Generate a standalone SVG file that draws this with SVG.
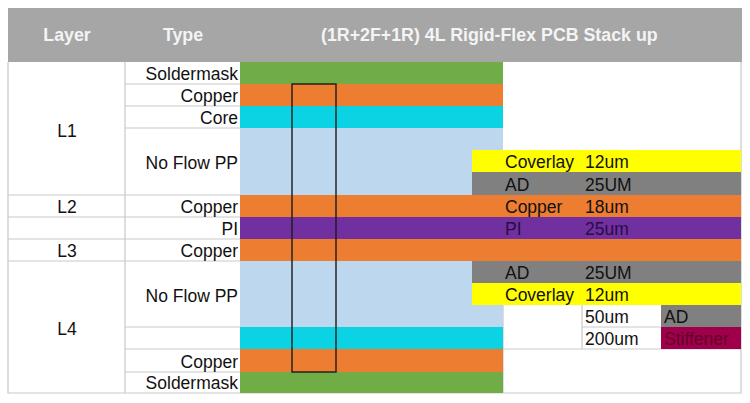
<svg xmlns="http://www.w3.org/2000/svg" width="750" height="403" viewBox="0 0 750 403">
<style>
text{font-family:"Liberation Sans",Arial,sans-serif;font-size:17.5px;fill:#111}
.h{font-weight:bold;fill:#F4F4F4;font-size:17.8px}
.r{text-anchor:end}
.c{text-anchor:middle}
.grid{stroke:#C9C9C9;stroke-width:1.2;fill:none}
.sm{fill:#70AD47}.cu{fill:#ED7D31}.core{fill:#0BD3E4}.pp{fill:#BDD7EE}.pi{fill:#7030A0}.cov{fill:#FFFF00}.ad{fill:#808080}.stf{fill:#A0004B}
.pit{fill:#2A0C45}.stt{fill:#62002A}
</style>
<rect width="750" height="403" fill="#fff"/>
<g id="header">
<rect x="8" y="8" width="734" height="54" fill="#A6A6A6"/>
<text class="h c" x="67" y="41">Layer</text>
<text class="h c" x="183" y="41">Type</text>
<text class="h" x="321" y="41">(1R+2F+1R) 4L Rigid-Flex PCB Stack up</text>
</g>
<g id="grid" class="grid">
<path d="M8 62V393H741V62"/>
<path d="M125 62V393"/>
<path d="M125 84H240M125 106H240M125 128H240"/>
<path d="M8 195H240M8 217H240M8 239H240M8 261H240"/>
<path d="M125 327H240M125 349H240M125 372H240"/>
<path d="M503 305V349H741M582 305V349M582 327H661M503 349V393"/>
</g>
<g id="layers">
<g id="L1"><text class="c" x="67" y="137">L1</text></g>
<g id="L2"><text class="c" x="67" y="213">L2</text></g>
<g id="L3"><text class="c" x="67" y="257">L3</text></g>
<g id="L4"><text class="c" x="67" y="335">L4</text></g>
</g>
<g id="row-soldermask-top"><rect class="sm" x="240" y="62" width="263" height="22"/><text class="r" x="238" y="80">Soldermask</text></g>
<g id="row-copper-top"><rect class="cu" x="240" y="84" width="263" height="22"/><text class="r" x="238" y="102">Copper</text></g>
<g id="row-core-top"><rect class="core" x="240" y="106" width="263" height="22"/><text class="r" x="238" y="124">Core</text></g>
<g id="row-pp-top"><rect class="pp" x="240" y="128" width="263" height="67"/><text class="r" x="238" y="169">No Flow PP</text></g>
<g id="coverlay-top"><rect class="cov" x="472" y="150" width="269" height="22"/><text x="505" y="168">Coverlay</text><text x="585" y="168">12um</text></g>
<g id="ad-top"><rect class="ad" x="472" y="172" width="269" height="23"/><text x="505" y="191">AD</text><text x="585" y="191">25UM</text></g>
<g id="row-copper-l2"><rect class="cu" x="240" y="195" width="501" height="22"/><text class="r" x="238" y="213">Copper</text><text x="505" y="213">Copper</text><text x="585" y="213">18um</text></g>
<g id="row-pi"><rect class="pi" x="240" y="217" width="501" height="22"/><text class="r" x="238" y="235">PI</text><text class="pit" x="505" y="235">PI</text><text class="pit" x="585" y="235">25um</text></g>
<g id="row-copper-l3"><rect class="cu" x="240" y="239" width="501" height="22"/><text class="r" x="238" y="257">Copper</text></g>
<g id="row-pp-bottom"><rect class="pp" x="240" y="261" width="263" height="66"/><text class="r" x="238" y="302">No Flow PP</text></g>
<g id="ad-bottom"><rect class="ad" x="472" y="261" width="269" height="22"/><text x="505" y="279">AD</text><text x="585" y="279">25UM</text></g>
<g id="coverlay-bottom"><rect class="cov" x="472" y="283" width="269" height="22"/><text x="505" y="301">Coverlay</text><text x="585" y="301">12um</text></g>
<g id="row-core-bottom"><rect class="core" x="240" y="327" width="263" height="22"/></g>
<g id="row-copper-bottom"><rect class="cu" x="240" y="349" width="263" height="23"/><text class="r" x="238" y="368">Copper</text></g>
<g id="row-soldermask-bottom"><rect class="sm" x="240" y="372" width="263" height="21"/><text class="r" x="238" y="389">Soldermask</text></g>
<g id="stiffener-ad"><rect class="ad" x="661" y="305" width="80" height="22"/><text x="585" y="323">50um</text><text x="664" y="323">AD</text></g>
<g id="stiffener"><rect class="stf" x="661" y="327" width="80" height="22"/><text x="585" y="345">200um</text><text class="stt" x="664" y="345">Stiffener</text></g>
<g id="connectors">
<rect x="292" y="84" width="44" height="288" fill="none" stroke="#1a1a1a" stroke-width="1.4"/>
</g>
</svg>
